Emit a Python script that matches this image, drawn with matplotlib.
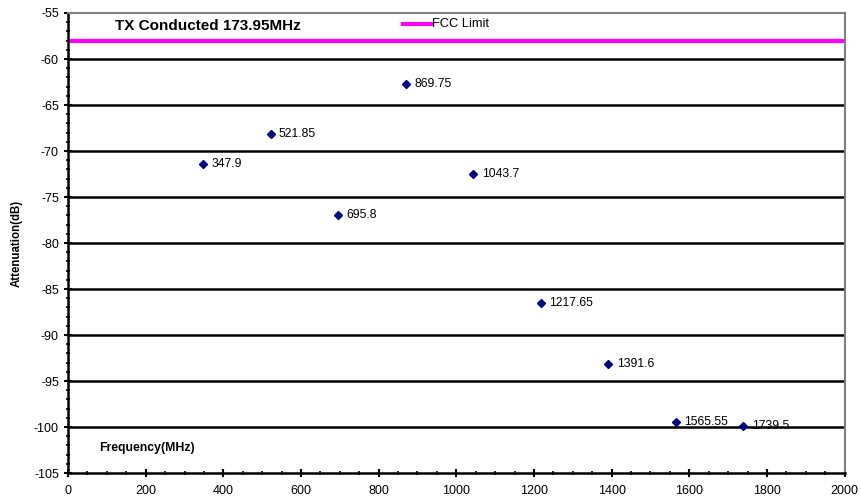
import matplotlib
matplotlib.use("Agg")
import matplotlib.pyplot as plt
from matplotlib.ticker import MultipleLocator

plt.rcParams['font.family'] = ['Liberation Sans', 'DejaVu Sans']
plt.rcParams['axes.unicode_minus'] = False

# measured harmonics
freqs = [347.9, 521.85, 695.8, 869.75, 1043.7, 1217.65, 1391.6, 1565.55, 1739.5]
atten = [-71.4, -68.2, -77.0, -62.7, -72.5, -86.5, -93.2, -99.5, -99.9]
labels = ["347.9", "521.85", "695.8", "869.75", "1043.7", "1217.65", "1391.6", "1565.55", "1739.5"]
fcc_limit = -58
x_range = [0, 2000]

fig = plt.figure(figsize=(8.61, 5.00), dpi=100)
ax = fig.add_axes([0.079, 0.054, 0.902, 0.92])

# horizontal grid at major y ticks
for yv in range(-100, -55, 5):
    ax.axhline(yv, color="black", lw=1.8, zorder=1)

ax.plot(x_range, [fcc_limit, fcc_limit], color="#ff00ff", lw=3, zorder=2)
ax.plot(freqs, atten, linestyle="none", marker="D", markersize=4.5,
        color="#000080", zorder=3)
for x, y, s in zip(freqs, atten, labels):
    ax.annotate(s, (x, y), xytext=(6, 0), textcoords="offset points",
                fontsize=8.8, va="center", ha="left", zorder=4)

ax.set_xlim(0, 2000)
ax.set_ylim(-105, -55)
ax.xaxis.set_major_locator(MultipleLocator(200))
ax.xaxis.set_minor_locator(MultipleLocator(50))
ax.yaxis.set_major_locator(MultipleLocator(5))
ax.yaxis.set_minor_locator(MultipleLocator(1))
ax.tick_params(which="major", direction="inout", length=6, width=1.5, labelsize=9)
ax.tick_params(which="minor", direction="inout", length=3, width=1.2)
ax.tick_params(axis="x", pad=6)

for side in ["left", "bottom"]:
    ax.spines[side].set_linewidth(1.8)
    ax.spines[side].set_color("black")
for side in ["top", "right"]:
    ax.spines[side].set_linewidth(1.5)
    ax.spines[side].set_color("#808080")

ax.set_ylabel("Attenuation(dB)", fontsize=8.3, fontweight="bold", labelpad=8)
ax.text(0.06, 0.972, "TX Conducted 173.95MHz", transform=ax.transAxes,
        fontsize=11, fontweight="bold", va="center")
ax.text(0.04, 0.054, "Frequency(MHz)", transform=ax.transAxes,
        fontsize=8.8, fontweight="bold", va="center")

# legend
ax.plot([0.431, 0.468], [0.976, 0.976], transform=ax.transAxes, color="#ff00ff", lw=3)
ax.text(0.469, 0.976, "FCC Limit", transform=ax.transAxes, fontsize=9.3, va="center")

fig.savefig("out.png", dpi=100)
